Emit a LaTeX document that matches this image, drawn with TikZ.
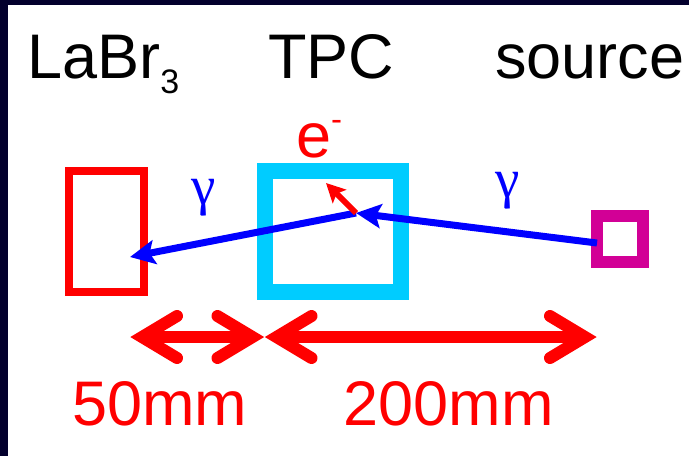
\documentclass[tikz,border=0pt]{standalone}
\usepackage{fontspec}
\setmainfont{Liberation Sans}
\newfontfamily\greekfont{Liberation Serif}
\usetikzlibrary{arrows.meta}
\definecolor{navy}{RGB}{3,0,45}
\definecolor{tpccyan}{RGB}{0,204,255}
\definecolor{srcmag}{RGB}{210,0,150}
\tikzset{
  big/.style={inner sep=0pt, font=\fontsize{63}{70}\selectfont},
  gam/.style={inner sep=0pt, text=blue, font=\greekfont\fontsize{55}{60}\selectfont},
  det/.style={draw, inner sep=0pt, outer sep=0pt},
  ray/.style={blue, line width=7pt, -{Stealth[length=25pt,width=24pt,inset=5pt]}},
  elec/.style={red, line width=6pt, -{Stealth[length=19pt,width=19pt,inset=4pt]}},
  dimline/.style={red, line width=12pt, line cap=butt},
  chev/.style={red, line width=12pt, line cap=round, line join=miter, miter limit=10}
}
\begin{document}
\begin{tikzpicture}[x=1pt,y=-1pt]
\useasboundingbox (0,0) rectangle (689,456);
\fill[white] (0,0) rectangle (689,456);
\fill[navy] (0,0) rectangle (8,456);
\fill[navy] (0,0) rectangle (689,5);

% titles
\node[big, anchor=base west] (tlabr) at (27,78) {LaBr\raisebox{-15pt}{\fontsize{34}{34}\selectfont 3}};
\node[big, anchor=base west] (ttpc) at (268,78) {TPC};
\node[big, anchor=base west] (tsrc) at (495,78) {source};

% detectors
\node[det, draw=red, line width=8pt, minimum width=75pt, minimum height=121pt] (labr) at (106.5,231.5) {};
\node[det, draw=tpccyan, line width=16pt, minimum width=135.5pt, minimum height=121.3pt] (tpc) at (333.2,231.4) {};
\node[det, draw=srcmag, line width=12pt, minimum width=45.3pt, minimum height=45.7pt] (src) at (620,239) {};

% e- label
\node[big, anchor=base west, text=red] (elab) at (296,157) {e\raisebox{27pt}{\fontsize{33}{33}\selectfont -}};

% gamma labels
\node[gam] (g1) at (204,198) {γ};
\node[gam] (g2) at (508,191) {γ};

% rays
\coordinate (s0) at (597,243);
\coordinate (v) at (356,213);
\coordinate (d) at (130,257);
\coordinate (et) at (326,183);
\draw[ray] (s0) -- (v);
\draw[ray] (v) -- (d);
\draw[elec] (v) -- (et);

% dimension arrows
\coordinate (L1) at (130,337);
\coordinate (M) at (264.5,337);
\coordinate (R) at (597,337);
\draw[dimline] ([xshift=12pt]L1) -- ([xshift=-12pt]M);
\draw[dimline] ([xshift=12pt]M) -- ([xshift=-12pt]R);
\draw[chev] ([shift={(47,-21)}]L1) -- ([shift={(12,0)}]L1) -- ([shift={(47,21)}]L1);
\draw[chev] ([shift={(-47,-21)}]M) -- ([shift={(-12,0)}]M) -- ([shift={(-47,21)}]M);
\draw[chev] ([shift={(47,-21)}]M) -- ([shift={(12,0)}]M) -- ([shift={(47,21)}]M);
\draw[chev] ([shift={(-47,-21)}]R) -- ([shift={(-12,0)}]R) -- ([shift={(-47,21)}]R);

% dimension labels
\node[big, anchor=base west, text=red] (l50) at (72,425) {50mm};
\node[big, anchor=base west, text=red] (l200) at (343.5,425) {200mm};
\end{tikzpicture}
\end{document}
